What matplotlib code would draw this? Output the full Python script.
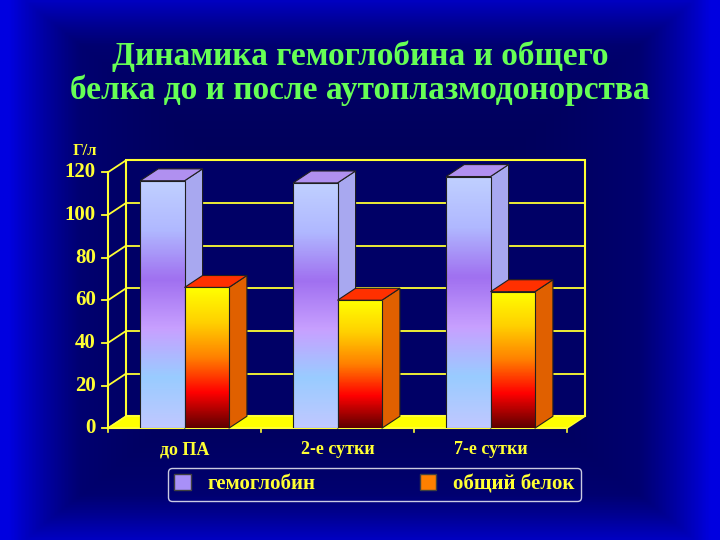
import matplotlib
matplotlib.use('Agg')
import matplotlib.pyplot as plt
import numpy as np
from matplotlib.patches import Polygon, Rectangle, Patch
from matplotlib.colors import LinearSegmentedColormap

categories = ['до ПА', '2-е сутки', '7-е сутки']
hemoglobin = [116, 115, 118]
protein = [66, 60, 64]
yticks = [0, 20, 40, 60, 80, 100, 120]
series_names = ['гемоглобин', 'общий белок']

YEL = '#FFFF33'
plt.rcParams['font.family'] = ['Liberation Serif', 'DejaVu Serif']

fig = plt.figure(figsize=(7.2, 5.4), dpi=100)

# background: dark centre, brighter blue edges
bg = fig.add_axes([0, 0, 1, 1])
yy, xx = np.mgrid[-1:1:200j, -1:1:200j]
r = np.clip(np.maximum(np.abs(xx) * 1.02, np.abs(yy) * 0.95), 0, 1)
bgcmap = LinearSegmentedColormap.from_list('bg', ['#000058', '#000070', '#0000E0'])
bg.imshow(r ** 3, cmap=bgcmap, extent=[0, 1, 0, 1], aspect='auto')
bg.axis('off')

fig.text(0.5, 0.865, 'Динамика гемоглобина и общего\nбелка до и после аутоплазмодонорства',
         ha='center', va='center', color='#66FF55', fontsize=24, fontweight='bold',
         linespacing=1.1)

ax = fig.add_axes([0.15, 0.207, 0.6375, 0.474])
ax.set_xlim(-0.5, 2.5)
ax.set_ylim(0, 120)
ax.axis('off')

dx, dy = 0.118, 5.6
w = 0.29

# back wall and floor
ax.add_patch(Rectangle((-0.5 + dx, dy), 3, 120, facecolor='#000066', edgecolor=YEL,
                       lw=1.5, clip_on=False, zorder=0))
ax.add_patch(Polygon([(-0.5, 0), (2.5, 0), (2.5 + dx, dy), (-0.5 + dx, dy)],
                     closed=True, facecolor='#FFFF00', edgecolor=YEL, clip_on=False, zorder=1))
for t in yticks:
    ax.plot([-0.5 + dx, 2.5 + dx], [t + dy, t + dy], color=YEL, lw=1.3, zorder=0.5, clip_on=False)
    ax.plot([-0.5, -0.5 + dx], [t, t + dy], color=YEL, lw=1.3, zorder=0.5, clip_on=False)
    ax.plot([-0.54, -0.5], [t, t], color=YEL, lw=1.3, clip_on=False)
    ax.text(-0.58, t, str(t), ha='right', va='center', color=YEL, fontsize=15, fontweight='bold')
ax.plot([-0.5, -0.5], [0, 120], color=YEL, lw=1.5, clip_on=False)
ax.plot([-0.5, 2.5], [0, 0], color=YEL, lw=1.5, clip_on=False)
for k in range(4):
    ax.plot([k - 0.5, k - 0.5], [0, -2], color=YEL, lw=1.2, clip_on=False)
ax.text(-0.65, 126, 'Г/л', ha='center', va='bottom', color=YEL, fontsize=12, fontweight='bold')
for i, c in enumerate(categories):
    ax.text(i, -6, c, ha='center', va='top', color=YEL, fontsize=13, fontweight='bold')

hem_cmap = LinearSegmentedColormap.from_list('h', ['#C0C8FF', '#99CCFF', '#C8A0FF', '#A070F0',
                                                   '#B0B8FF', '#C0D0FF'])
pro_cmap = LinearSegmentedColormap.from_list('p', ['#600000', '#FF0000', '#FF8000', '#FFD000',
                                                   '#FFFF00'])
grad = np.linspace(0, 1, 100).reshape(-1, 1)


def bar3d(x0, h, cmap, side, top, z):
    rect = Rectangle((x0, 0), w, h, facecolor='none', edgecolor='none')
    ax.add_patch(rect)
    im = ax.imshow(grad, cmap=cmap, extent=[x0, x0 + w, 0, h], origin='lower',
                   aspect='auto', zorder=z + 0.1)
    im.set_clip_path(rect)
    ax.add_patch(Rectangle((x0, 0), w, h, fill=False, edgecolor='#202020', lw=0.8, zorder=z + 0.2))
    ax.add_patch(Polygon([(x0 + w, 0), (x0 + w + dx, dy), (x0 + w + dx, h + dy), (x0 + w, h)],
                         facecolor=side, edgecolor='#202020', lw=0.8, zorder=z, clip_on=False))
    ax.add_patch(Polygon([(x0, h), (x0 + dx, h + dy), (x0 + w + dx, h + dy), (x0 + w, h)],
                         facecolor=top, edgecolor='#202020', lw=0.8, zorder=z, clip_on=False))


for i in range(len(categories)):
    bar3d(i - w, hemoglobin[i], hem_cmap, '#A8A8F0', '#B090F0', 3)
    bar3d(i, protein[i], pro_cmap, '#E06000', '#FF3000', 5)

ax.set_xlim(-0.5, 2.5)
ax.set_ylim(0, 120)

# legend
handles = [Patch(facecolor='#A890F8', edgecolor='#404040'),
           Patch(facecolor='#FF8000', edgecolor='#404040')]
leg = fig.legend(handles, series_names, loc='center', bbox_to_anchor=(0.52, 0.103), ncol=2,
                 frameon=True, fontsize=15, columnspacing=5, handlelength=0.8,
                 handleheight=0.8, borderpad=0.3)
leg.get_frame().set_facecolor('none')
leg.get_frame().set_edgecolor('white')
for t in leg.get_texts():
    t.set_color(YEL)
    t.set_fontweight('bold')

fig.savefig('out.png', dpi=100)
